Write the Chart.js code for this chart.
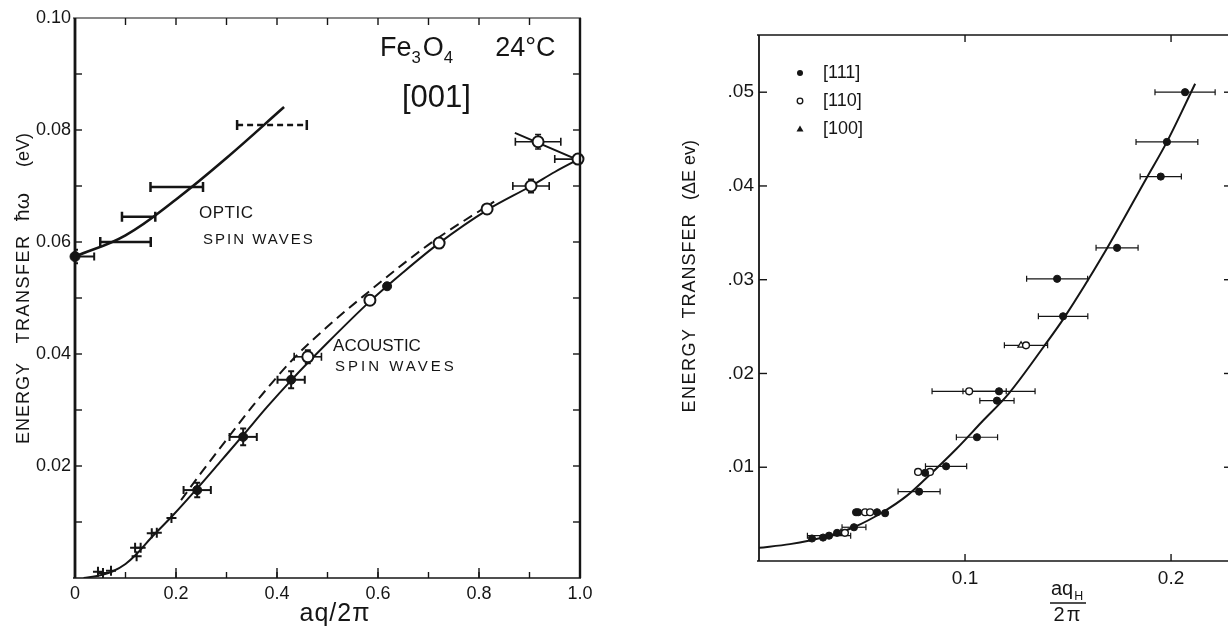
<!DOCTYPE html>
<html lang="en">
<head>
<meta charset="UTF-8">
<title>Spin wave dispersion</title>
<script src="https://cdn.jsdelivr.net/npm/chart.js"></script>
<style>
    body {
        margin: 0;
        width: 1228px;
        height: 628px;
        overflow: hidden;
        position: relative;
        background: #fff;
        font-family: "Liberation Sans", Arial, sans-serif;
    }
    #left { position: absolute; left: 0; top: 0; }
    #right { position: absolute; left: 640px; top: 0; }
</style>
</head>
<body>
<canvas id="left" width="640" height="628"></canvas>
<canvas id="right" width="600" height="628"></canvas>

<script>
// ---------- left panel: Fe3O4 [001] ----------
const leftXTicks = [0, 0.2, 0.4, 0.6, 0.8, 1.0];
const leftXLabels = ['0', '0.2', '0.4', '0.6', '0.8', '1.0'];
const leftYTicks = [0.02, 0.04, 0.06, 0.08, 0.10];
const leftYLabels = ['0.02', '0.04', '0.06', '0.08', '0.10'];
const leftMinorX = [0.1, 0.2, 0.3, 0.4, 0.5, 0.6, 0.7, 0.8, 0.9];
const leftMajorX = [0.2, 0.4, 0.6, 0.8];
const leftMinorY = [0.01, 0.02, 0.03, 0.04, 0.05, 0.06, 0.07, 0.08, 0.09];

// optic branch
const opticCurveX = [0, 0.1, 0.2, 0.3, 0.414];
const opticCurveY = [0.0574, 0.0612, 0.0676, 0.0750, 0.0841];
const opticDotX = [0];
const opticDotY = [0.0574];
const opticDotErrX = [0.038];
const opticDotErrY = [0.0012];
const opticBarX = [0.100, 0.126, 0.2015, 0.39];
const opticBarY = [0.0600, 0.0645, 0.0698, 0.0809];
const opticBarErrX = [0.050, 0.033, 0.052, 0.069];
const opticBarDashed = [false, false, false, true];

// acoustic branch
const acousticCurveX = [0.017, 0.05, 0.075, 0.1, 0.12, 0.15, 0.194, 0.242, 0.29, 0.333, 0.38, 0.428, 0.5, 0.584, 0.65, 0.721, 0.816, 0.903, 0.95, 1.0];
const acousticCurveY = [0, 0.0005, 0.0012, 0.0025, 0.0041, 0.0071, 0.0112, 0.0160, 0.0210, 0.0255, 0.0305, 0.0353, 0.0420, 0.0494, 0.0546, 0.0598, 0.0657, 0.0700, 0.0725, 0.0749];
const acousticDashX = [0.21, 0.25, 0.3, 0.35, 0.433, 0.5, 0.58, 0.65, 0.72, 0.83];
const acousticDashY = [0.0139, 0.0188, 0.0247, 0.0305, 0.0392, 0.0449, 0.0510, 0.0561, 0.0608, 0.0672];
const upperBranchX = [0.871, 1.0];
const upperBranchY = [0.0795, 0.0745];

const crossX = [0.0455, 0.0554, 0.0713, 0.122, 0.119, 0.130, 0.152, 0.162, 0.191];
const crossY = [0.0011, 0.0009, 0.0013, 0.0039, 0.0054, 0.0054, 0.0080, 0.0081, 0.0107];
const acFilledX = [0.242, 0.333, 0.428, 0.618];
const acFilledY = [0.0157, 0.0252, 0.0354, 0.0521];
const acFilledErrX = [0.027, 0.027, 0.027, 0];
const acFilledErrY = [0.0013, 0.0015, 0.0015, 0];
const acOpenX = [0.461, 0.584, 0.721, 0.816, 0.903, 0.917, 0.996];
const acOpenY = [0.0395, 0.0496, 0.0598, 0.0659, 0.0700, 0.0779, 0.0748];
const acOpenErrX = [0.027, 0, 0, 0, 0.036, 0.045, 0.046];
const acOpenErrY = [0.0012, 0, 0, 0, 0.0012, 0.0013, 0];

// ---------- right panel ----------
const rightXTicks = [0.1, 0.2];
const rightXLabels = ['0.1', '0.2'];
const rightYTicks = [0.01, 0.02, 0.03, 0.04, 0.05];
const rightYLabels = ['.01', '.02', '.03', '.04', '.05'];

const r111X = [0.2068, 0.198, 0.195, 0.1738, 0.1447, 0.1476, 0.1165, 0.1155, 0.1058, 0.0908, 0.0806, 0.0777, 0.0471, 0.0481, 0.0573, 0.0612, 0.0461, 0.0379, 0.0340, 0.0311, 0.0257];
const r111Y = [0.0500, 0.0447, 0.0410, 0.0334, 0.0301, 0.0261, 0.0181, 0.0171, 0.0132, 0.0101, 0.0094, 0.0074, 0.0052, 0.0052, 0.0052, 0.0051, 0.0036, 0.0030, 0.0027, 0.0025, 0.0024];
const r111ErrX = [0.0146, 0.015, 0.010, 0.0102, 0.0148, 0.012, 0.0175, 0.0083, 0.010, 0.010, 0, 0.0102, 0, 0, 0, 0, 0.0058, 0, 0.0105, 0, 0];
const r110X = [0.1296, 0.102, 0.0772, 0.0830, 0.0515, 0.0539, 0.0417];
const r110Y = [0.0230, 0.0181, 0.0095, 0.0095, 0.0052, 0.0052, 0.0030];
const r110ErrX = [0.0105, 0.018, 0, 0, 0, 0, 0];
const r100X = [0.1272, 0.0398];
const r100Y = [0.0230, 0.0030];
const rightCurveX = [0, 0.015, 0.031, 0.046, 0.06, 0.072, 0.081, 0.096, 0.108, 0.121, 0.138, 0.148, 0.168, 0.188, 0.198, 0.2117];
const rightCurveY = [0.0014, 0.0018, 0.0025, 0.0036, 0.0052, 0.0070, 0.0088, 0.0120, 0.0148, 0.0178, 0.0228, 0.0259, 0.0330, 0.0408, 0.0447, 0.0509];

const INK = '#151515';
const FONT = '"Liberation Sans", Arial, sans-serif';

function pts(xs, ys) {
    return xs.map((x, i) => ({ x: x, y: ys[i] }));
}

// error bars, drawn under the markers
const errorBars = {
    id: 'errorBars',
    beforeDatasetsDraw(chart) {
        const ctx = chart.ctx, a = chart.chartArea;
        const sx = chart.scales.x, sy = chart.scales.y;
        ctx.save();
        ctx.beginPath();
        ctx.rect(a.left - 1, a.top - 4, a.width + 2, a.height + 8);
        ctx.clip();
        chart.data.datasets.forEach(ds => {
            if (!ds.errX && !ds.errY) return;
            ctx.strokeStyle = ds.errColor || INK;
            ctx.lineWidth = ds.errWidth || 2;
            const cap = ds.errCap || 4;
            ds.data.forEach((p, i) => {
                const px = sx.getPixelForValue(p.x), py = sy.getPixelForValue(p.y);
                const ex = ds.errX ? ds.errX[i] : 0, ey = ds.errY ? ds.errY[i] : 0;
                ctx.setLineDash(ds.errDash && ds.errDash[i] ? [6, 4] : []);
                if (ex) {
                    const x1 = sx.getPixelForValue(p.x - ex), x2 = sx.getPixelForValue(p.x + ex);
                    ctx.beginPath(); ctx.moveTo(x1, py); ctx.lineTo(x2, py); ctx.stroke();
                    ctx.setLineDash([]);
                    ctx.beginPath();
                    ctx.moveTo(x1, py - cap); ctx.lineTo(x1, py + cap);
                    ctx.moveTo(x2, py - cap); ctx.lineTo(x2, py + cap);
                    ctx.stroke();
                }
                if (ey) {
                    const y1 = sy.getPixelForValue(p.y - ey), y2 = sy.getPixelForValue(p.y + ey);
                    ctx.setLineDash([]);
                    ctx.beginPath();
                    ctx.moveTo(px, y1); ctx.lineTo(px, y2);
                    ctx.moveTo(px - 3, y1); ctx.lineTo(px + 3, y1);
                    ctx.moveTo(px - 3, y2); ctx.lineTo(px + 3, y2);
                    ctx.stroke();
                }
            });
        });
        ctx.restore();
    }
};

// box and inward tick marks
const frameTicks = {
    id: 'frameTicks',
    afterDatasetsDraw(chart, args, o) {
        const ctx = chart.ctx, a = chart.chartArea;
        const sx = chart.scales.x, sy = chart.scales.y;
        const seg = (x1, y1, x2, y2, w) => {
            ctx.lineWidth = w;
            ctx.beginPath(); ctx.moveTo(x1, y1); ctx.lineTo(x2, y2); ctx.stroke();
        };
        ctx.save();
        ctx.strokeStyle = INK;
        seg(a.left - 2, a.top, a.right + 1, a.top, o.top);
        seg(a.left - 2, a.bottom, a.right + 1, a.bottom, o.bottom);
        seg(a.left, a.top, a.left, a.bottom, o.left);
        seg(a.right, a.top, a.right, a.bottom, o.right);
        o.marks.forEach(m => {
            m.values.forEach(v => {
                if (m.side === 'top') { const p = sx.getPixelForValue(v); seg(p, a.top, p, a.top + m.len, 1.4); }
                if (m.side === 'bottom') { const p = sx.getPixelForValue(v); seg(p, a.bottom, p, a.bottom - m.len, 1.4); }
                if (m.side === 'left') { const p = sy.getPixelForValue(v); seg(a.left, p, a.left + m.len, p, 1.4); }
                if (m.side === 'right') { const p = sy.getPixelForValue(v); seg(a.right, p, a.right - m.len, p, 1.4); }
            });
        });
        ctx.restore();
    }
};

// free text: in data units (data: true) or in canvas pixels
function drawRuns(ctx, runs, x, y, size, spacing) {
    let cx = x;
    runs.forEach(r => {
        const s = r.sub ? size * 0.62 : size;
        ctx.font = s + 'px ' + FONT;
        ctx.letterSpacing = (spacing || 0) + 'px';
        ctx.fillText(r.t, cx, y + (r.sub ? size * 0.38 : 0));
        cx += ctx.measureText(r.t).width + (r.gap || 0);
    });
}
const texts = {
    id: 'texts',
    afterDraw(chart, args, o) {
        const ctx = chart.ctx;
        ctx.save();
        ctx.fillStyle = INK;
        ctx.textBaseline = 'middle';
        o.items.forEach(it => {
            let x = it.x, y = it.y;
            if (it.data) {
                x = chart.scales.x.getPixelForValue(it.x);
                y = chart.scales.y.getPixelForValue(it.y);
            }
            ctx.save();
            ctx.translate(x, y);
            if (it.rot) ctx.rotate(-Math.PI / 2);
            ctx.textAlign = it.align || 'left';
            const runs = it.runs || [{ t: it.text }];
            drawRuns(ctx, runs, 0, 0, it.size, it.spacing);
            ctx.restore();
        });
        (o.shapes || []).forEach(s => {
            ctx.lineWidth = 1.3;
            ctx.strokeStyle = INK;
            ctx.beginPath();
            if (s.kind === 'dot') { ctx.arc(s.x, s.y, 3, 0, Math.PI * 2); ctx.fill(); }
            if (s.kind === 'ring') { ctx.arc(s.x, s.y, 2.8, 0, Math.PI * 2); ctx.stroke(); }
            if (s.kind === 'tri') { ctx.moveTo(s.x, s.y - 3.5); ctx.lineTo(s.x + 3.5, s.y + 2.5); ctx.lineTo(s.x - 3.5, s.y + 2.5); ctx.closePath(); ctx.fill(); }
            if (s.kind === 'rule') { ctx.moveTo(s.x, s.y); ctx.lineTo(s.x2, s.y); ctx.stroke(); }
        });
        ctx.restore();
    }
};

function axis(min, max, tickVals, tickLabels, fitKey, fitVal, pad, size) {
    return {
        type: 'linear', min: min, max: max,
        grid: { display: false, drawTicks: false },
        border: { display: false },
        afterBuildTicks: s => { s.ticks = tickVals.map(v => ({ value: v })); },
        afterFit: s => { s[fitKey] = fitVal; },
        ticks: {
            autoSkip: false, maxRotation: 0, padding: pad, color: INK,
            font: { family: FONT, size: size },
            callback: (v, i) => tickLabels[i]
        }
    };
}

const curveStyle = { showLine: true, pointRadius: 0, borderColor: INK, fill: false, cubicInterpolationMode: 'monotone' };

new Chart(document.getElementById('left'), {
    type: 'scatter',
    data: {
        datasets: [
            { data: pts(opticDotX, opticDotY), errX: opticDotErrX, errY: opticDotErrY, pointRadius: 5, backgroundColor: INK, borderColor: INK, clip: 8 },
            { data: pts(opticBarX, opticBarY), errX: opticBarErrX, errDash: opticBarDashed, errWidth: 2.5, errCap: 5, pointRadius: 0 },
            { data: pts(acOpenX, acOpenY), errX: acOpenErrX, errY: acOpenErrY, errWidth: 1.6, pointRadius: 5.5, borderWidth: 2, backgroundColor: '#fff', borderColor: INK, clip: 8 },
            { data: pts(acFilledX, acFilledY), errX: acFilledErrX, errY: acFilledErrY, pointRadius: 4.5, backgroundColor: INK, borderColor: INK },
            { data: pts(crossX, crossY), pointStyle: 'cross', pointRadius: 5, borderWidth: 2, borderColor: INK },
            { data: pts(opticCurveX, opticCurveY), showLine: true, pointRadius: 0, borderColor: INK, fill: false, tension: 0.4, borderWidth: 2.6 },
            Object.assign({ data: pts(acousticCurveX, acousticCurveY), borderWidth: 2 }, curveStyle),
            Object.assign({ data: pts(acousticDashX, acousticDashY), borderWidth: 2, borderDash: [10, 6] }, curveStyle),
            Object.assign({ data: pts(upperBranchX, upperBranchY), borderWidth: 2 }, curveStyle)
        ]
    },
    options: {
        responsive: false,
        animation: false,
        layout: { padding: { top: 18, right: 60, left: 0, bottom: 0 } },
        scales: {
            x: axis(0, 1, leftXTicks, leftXLabels, 'height', 50, 5, 18),
            y: axis(0, 0.1, leftYTicks, leftYLabels, 'width', 75, 4, 18)
        },
        plugins: {
            legend: { display: false },
            tooltip: { enabled: false },
            frameTicks: {
                top: 1.2, bottom: 1.6, left: 2.8, right: 2.4,
                marks: [
                    { side: 'top', values: leftMinorX, len: 7 },
                    { side: 'bottom', values: leftMinorX, len: 6 },
                    { side: 'bottom', values: leftMajorX, len: 10 },
                    { side: 'left', values: leftMinorY, len: 7 },
                    { side: 'right', values: leftMinorY, len: 7 }
                ]
            },
            texts: {
                items: [
                    { text: 'OPTIC', data: true, x: 0.2455, y: 0.0652, size: 17, spacing: 0.5 },
                    { text: 'SPIN WAVES', data: true, x: 0.2535, y: 0.0604, size: 15, spacing: 2 },
                    { text: 'ACOUSTIC', data: true, x: 0.511, y: 0.0414, size: 17, spacing: 0 },
                    { text: 'SPIN WAVES', data: true, x: 0.515, y: 0.0377, size: 15, spacing: 3 },
                    { data: true, x: 0.604, y: 0.0946, size: 27, runs: [{ t: 'Fe' }, { t: '3', sub: true, gap: 2 }, { t: 'O' }, { t: '4', sub: true }] },
                    { text: '24°C', data: true, x: 0.832, y: 0.0946, size: 27 },
                    { text: '[001]', data: true, x: 0.6475, y: 0.0857, size: 31 },
                    { text: 'ENERGY', x: 24, y: 403, rot: true, align: 'center', size: 18, spacing: 1 },
                    { text: 'TRANSFER', x: 24, y: 289, rot: true, align: 'center', size: 18, spacing: 1.5 },
                    { text: 'ħω', x: 23, y: 207, rot: true, align: 'center', size: 21 },
                    { text: '(eV)', x: 24, y: 150, rot: true, align: 'center', size: 18 },
                    { text: 'aq/2π', x: 335, y: 614, align: 'center', size: 25, spacing: 1 }
                ]
            }
        }
    },
    plugins: [errorBars, frameTicks, texts]
});

new Chart(document.getElementById('right'), {
    type: 'scatter',
    data: {
        datasets: [
            { data: pts(r111X, r111Y), errX: r111ErrX, errWidth: 1.2, errCap: 3, pointRadius: 3.6, backgroundColor: INK, borderColor: INK },
            { data: pts(r110X, r110Y), errX: r110ErrX, errWidth: 1.2, errCap: 3, pointRadius: 3.4, borderWidth: 1.4, backgroundColor: '#fff', borderColor: INK },
            { data: pts(r100X, r100Y), pointStyle: 'triangle', pointRadius: 3.6, borderWidth: 1.3, backgroundColor: '#fff', borderColor: INK },
            Object.assign({ data: pts(rightCurveX, rightCurveY), borderWidth: 2 }, curveStyle)
        ]
    },
    options: {
        responsive: false,
        animation: false,
        layout: { padding: { top: 35, right: 9, left: 0, bottom: 0 } },
        scales: {
            x: axis(0, 0.2291, rightXTicks, rightXLabels, 'height', 67, 6, 19),
            y: axis(0, 0.0561, rightYTicks, rightYLabels, 'width', 119, 5, 19)
        },
        plugins: {
            legend: { display: false },
            tooltip: { enabled: false },
            frameTicks: {
                top: 1.4, bottom: 1.6, left: 1.8, right: 1.6,
                marks: [
                    { side: 'top', values: rightXTicks, len: 7 },
                    { side: 'bottom', values: rightXTicks, len: 7 },
                    { side: 'left', values: rightYTicks, len: 8 },
                    { side: 'right', values: rightYTicks, len: 7 }
                ]
            },
            texts: {
                items: [
                    { text: '[111]', x: 183, y: 73, size: 18 },
                    { text: '[110]', x: 183, y: 101, size: 18 },
                    { text: '[100]', x: 183, y: 129, size: 18 },
                    { text: 'ENERGY', x: 50, y: 370, rot: true, align: 'center', size: 18, spacing: 1.5 },
                    { text: 'TRANSFER', x: 50, y: 266, rot: true, align: 'center', size: 18, spacing: 1 },
                    { text: '(ΔE ev)', x: 50, y: 170, rot: true, align: 'center', size: 18 },
                    { x: 411, y: 589, size: 20, runs: [{ t: 'aq', gap: 1 }, { t: 'H', sub: true }] },
                    { text: '2π', x: 428, y: 615, align: 'center', size: 20, spacing: 2 }
                ],
                shapes: [
                    { kind: 'dot', x: 160, y: 73 },
                    { kind: 'ring', x: 160, y: 101 },
                    { kind: 'tri', x: 160, y: 129 },
                    { kind: 'rule', x: 410, x2: 446, y: 603 }
                ]
            }
        }
    },
    plugins: [errorBars, frameTicks, texts]
});
</script>
</body>
</html>
